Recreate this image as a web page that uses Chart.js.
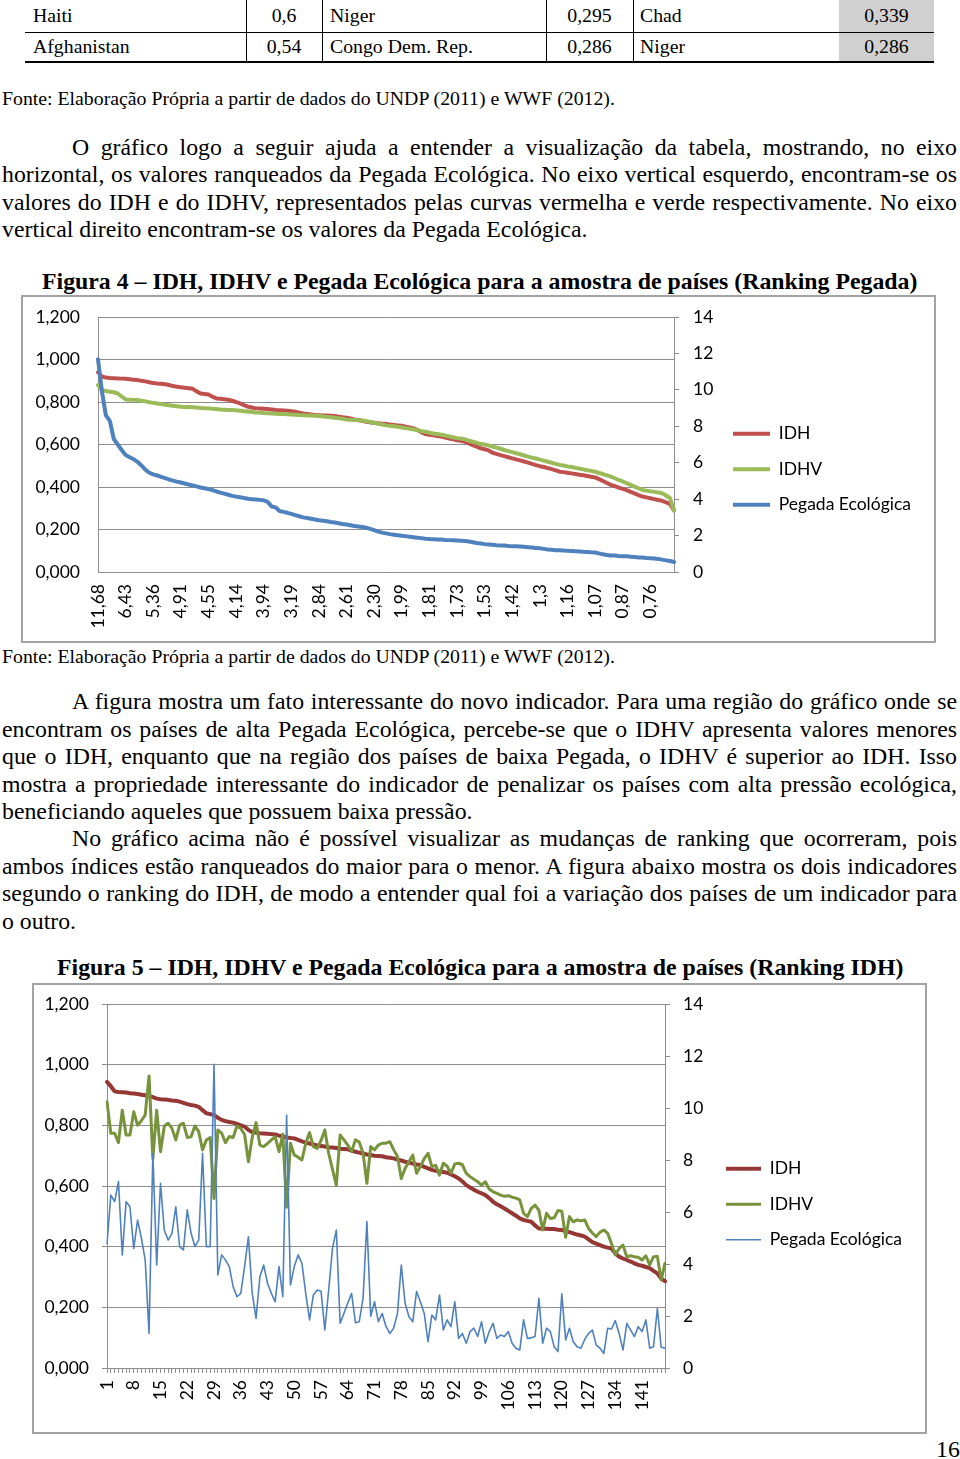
<!DOCTYPE html>
<html>
<head>
<meta charset="utf-8">
<script src="https://cdn.jsdelivr.net/npm/chart.js@4.4.0/dist/chart.umd.min.js"></script>
<style>
  body { margin: 0; background: #fff; width: 960px; height: 1459px; position: relative; overflow: hidden;
         font-family: "Liberation Serif", "Times New Roman", serif; color: #000; }
  .t { position: absolute; line-height: 1; white-space: nowrap; }
  .p { font-size: 23.8px; }
  .j { text-align: justify; text-align-last: justify; white-space: normal; }
  .s { font-size: 19.8px; }
  .h { font-size: 23.8px; font-weight: bold; }
  .c { text-align: center; }
  .ln { position: absolute; background: #000; }
  .box { position: absolute; border: 2px solid #a3a3a3; box-sizing: border-box; }
  .box canvas { display: block; }
</style>
</head>
<body>

<!-- fim da tabela 3 -->
<div style="position:absolute;left:839px;top:0;width:95px;height:62px;background:#d0d0d0"></div>
<div class="ln" style="left:25px;top:32px;width:909px;height:1px"></div>
<div class="ln" style="left:25px;top:61px;width:909px;height:2px"></div>
<div class="ln" style="left:246px;top:0;width:1px;height:62px"></div>
<div class="ln" style="left:322px;top:0;width:1px;height:62px"></div>
<div class="ln" style="left:546px;top:0;width:1px;height:62px"></div>
<div class="ln" style="left:633px;top:0;width:1px;height:62px"></div>
<div class="t s" style="left:33px;top:6px">Haiti</div>
<div class="t s c" style="left:246px;top:6px;width:76px">0,6</div>
<div class="t s" style="left:330px;top:6px">Niger</div>
<div class="t s c" style="left:546px;top:6px;width:87px">0,295</div>
<div class="t s" style="left:640px;top:6px">Chad</div>
<div class="t s c" style="left:839px;top:6px;width:95px">0,339</div>
<div class="t s" style="left:33px;top:37px">Afghanistan</div>
<div class="t s c" style="left:246px;top:37px;width:76px">0,54</div>
<div class="t s" style="left:330px;top:37px">Congo Dem. Rep.</div>
<div class="t s c" style="left:546px;top:37px;width:87px">0,286</div>
<div class="t s" style="left:640px;top:37px">Niger</div>
<div class="t s c" style="left:839px;top:37px;width:95px">0,286</div>

<div class="t s" style="left:2px;top:89px">Fonte: Elaboração Própria a partir de dados do UNDP (2011) e WWF (2012).</div>

<div class="t p j" style="left:72px;top:136px;width:885px">O gráfico logo a seguir ajuda a entender a visualização da tabela, mostrando, no eixo</div>
<div class="t p j" style="left:2px;top:163px;width:955px">horizontal, os valores ranqueados da Pegada Ecológica. No eixo vertical esquerdo, encontram-se os</div>
<div class="t p j" style="left:2px;top:191px;width:955px">valores do IDH e do IDHV, representados pelas curvas vermelha e verde respectivamente. No eixo</div>
<div class="t p" style="left:2px;top:218px">vertical direito encontram-se os valores da Pegada Ecológica.</div>

<div class="t h" style="left:42px;top:270px">Figura 4 – IDH, IDHV e Pegada Ecológica para a amostra de países (Ranking Pegada)</div>
<div class="box" style="left:21px;top:295px;width:915px;height:348px">
  <canvas id="fig4" width="911" height="344"></canvas>
</div>
<div class="t s" style="left:2px;top:647px">Fonte: Elaboração Própria a partir de dados do UNDP (2011) e WWF (2012).</div>

<div class="t p j" style="left:72px;top:690px;width:885px">A figura mostra um fato interessante do novo indicador. Para uma região do gráfico onde se</div>
<div class="t p j" style="left:2px;top:718px;width:955px">encontram os países de alta Pegada Ecológica, percebe-se que o IDHV apresenta valores menores</div>
<div class="t p j" style="left:2px;top:745px;width:955px">que o IDH, enquanto que na região dos países de baixa Pegada, o IDHV é superior ao IDH. Isso</div>
<div class="t p j" style="left:2px;top:773px;width:955px">mostra a propriedade interessante do indicador de penalizar os países com alta pressão ecológica,</div>
<div class="t p" style="left:2px;top:800px">beneficiando aqueles que possuem baixa pressão.</div>
<div class="t p j" style="left:72px;top:827px;width:885px">No gráfico acima não é possível visualizar as mudanças de ranking que ocorreram, pois</div>
<div class="t p j" style="left:2px;top:855px;width:955px">ambos índices estão ranqueados do maior para o menor. A figura abaixo mostra os dois indicadores</div>
<div class="t p j" style="left:2px;top:882px;width:955px">segundo o ranking do IDH, de modo a entender qual foi a variação dos países de um indicador para</div>
<div class="t p" style="left:2px;top:910px">o outro.</div>

<div class="t h" style="left:57px;top:956px">Figura 5 – IDH, IDHV e Pegada Ecológica para a amostra de países (Ranking IDH)</div>
<div class="box" style="left:32px;top:983px;width:895px;height:451px">
  <canvas id="fig5" width="891" height="447"></canvas>
</div>

<div class="t p" style="left:936px;top:1438px">16</div>

<script>
// Figura 4: paises ordenados pela Pegada Ecologica
const fig4Pegada = [
  11.68, 9.90, 8.60, 8.30, 7.30, 7.00, 6.70, 6.43,
  6.30, 6.20, 6.05, 5.85, 5.62, 5.45, 5.36,
  5.30, 5.22, 5.15, 5.08, 5.02, 4.96, 4.91,
  4.86, 4.80, 4.75, 4.70, 4.64, 4.60, 4.55,
  4.50, 4.42, 4.36, 4.30, 4.24, 4.18, 4.14,
  4.10, 4.06, 4.02, 4.00, 3.98, 3.96, 3.94,
  3.85, 3.60, 3.55, 3.35, 3.30, 3.25, 3.19,
  3.12, 3.06, 3.00, 2.96, 2.92, 2.88, 2.84,
  2.82, 2.79, 2.75, 2.72, 2.68, 2.64, 2.61,
  2.57, 2.53, 2.50, 2.47, 2.43, 2.37, 2.30,
  2.22, 2.16, 2.12, 2.08, 2.05, 2.02, 1.99,
  1.97, 1.94, 1.91, 1.88, 1.86, 1.83, 1.81,
  1.80, 1.79, 1.78, 1.76, 1.75, 1.74, 1.73,
  1.72, 1.70, 1.67, 1.63, 1.59, 1.56, 1.53,
  1.51, 1.49, 1.47, 1.46, 1.45, 1.43, 1.42,
  1.41, 1.40, 1.38, 1.36, 1.34, 1.32, 1.30,
  1.27, 1.24, 1.22, 1.20, 1.19, 1.18, 1.16,
  1.15, 1.14, 1.13, 1.11, 1.10, 1.08, 1.07,
  1.02, 0.97, 0.93, 0.91, 0.90, 0.88, 0.87,
  0.86, 0.84, 0.82, 0.80, 0.79, 0.77, 0.76,
  0.74, 0.72, 0.68, 0.64, 0.60, 0.55
];
const fig4Idh = [
  0.940, 0.920, 0.915, 0.913, 0.912, 0.911, 0.910, 0.909,
  0.907, 0.905, 0.903, 0.900, 0.897, 0.893, 0.889,
  0.887, 0.886, 0.884, 0.880, 0.875, 0.872, 0.869,
  0.867, 0.865, 0.862, 0.850, 0.840, 0.838, 0.835,
  0.825, 0.817, 0.815, 0.813, 0.811, 0.806, 0.800,
  0.793, 0.785, 0.778, 0.774, 0.770, 0.769, 0.768,
  0.767, 0.765, 0.762, 0.761, 0.760, 0.759, 0.757,
  0.754, 0.750, 0.746, 0.743, 0.741, 0.739, 0.738,
  0.737, 0.736, 0.735, 0.734, 0.731, 0.728, 0.726,
  0.722, 0.718, 0.715, 0.711, 0.707, 0.704, 0.702,
  0.700, 0.698, 0.696, 0.694, 0.692, 0.690, 0.688,
  0.684, 0.680, 0.676, 0.668, 0.658, 0.649, 0.646,
  0.643, 0.640, 0.637, 0.633, 0.628, 0.624, 0.620,
  0.617, 0.613, 0.605, 0.597, 0.590, 0.582, 0.578,
  0.572, 0.561, 0.556, 0.550, 0.545, 0.540, 0.535,
  0.530, 0.525, 0.520, 0.515, 0.509, 0.503, 0.498,
  0.494, 0.489, 0.484, 0.478, 0.472, 0.470, 0.467,
  0.464, 0.461, 0.458, 0.455, 0.452, 0.448, 0.445,
  0.437, 0.428, 0.419, 0.410, 0.404, 0.397, 0.391,
  0.385, 0.377, 0.370, 0.362, 0.355, 0.351, 0.347,
  0.343, 0.339, 0.335, 0.328, 0.320, 0.290
];
const fig4Idhv = [
  0.880, 0.856, 0.852, 0.848, 0.846, 0.840, 0.826, 0.812,
  0.811, 0.810, 0.809, 0.806, 0.803, 0.799, 0.796,
  0.793, 0.790, 0.787, 0.785, 0.782, 0.780, 0.778,
  0.777, 0.776, 0.775, 0.774, 0.772, 0.771, 0.770,
  0.768, 0.767, 0.765, 0.764, 0.762, 0.762, 0.761,
  0.759, 0.757, 0.755, 0.753, 0.751, 0.750, 0.748,
  0.747, 0.746, 0.745, 0.744, 0.743, 0.742, 0.741,
  0.740, 0.739, 0.738, 0.737, 0.736, 0.735, 0.734,
  0.732, 0.730, 0.728, 0.726, 0.724, 0.721, 0.718,
  0.716, 0.715, 0.714, 0.713, 0.710, 0.706, 0.702,
  0.698, 0.694, 0.690, 0.688, 0.686, 0.684, 0.680,
  0.677, 0.674, 0.671, 0.667, 0.663, 0.660, 0.656,
  0.652, 0.649, 0.646, 0.642, 0.638, 0.634, 0.630,
  0.628, 0.624, 0.618, 0.613, 0.608, 0.602, 0.600,
  0.596, 0.590, 0.585, 0.580, 0.574, 0.569, 0.564,
  0.559, 0.554, 0.548, 0.543, 0.538, 0.534, 0.529,
  0.524, 0.519, 0.514, 0.509, 0.504, 0.501, 0.497,
  0.494, 0.490, 0.487, 0.483, 0.479, 0.476, 0.472,
  0.466, 0.461, 0.455, 0.449, 0.441, 0.433, 0.426,
  0.418, 0.410, 0.402, 0.394, 0.386, 0.383, 0.380,
  0.377, 0.374, 0.371, 0.360, 0.347, 0.290
];
// rotulos do eixo x (um a cada 7 paises)
const fig4TickLabels = ['11,68', '6,43', '5,36', '4,91', '4,55', '4,14', '3,94', '3,19', '2,84', '2,61', '2,30',
  '1,99', '1,81', '1,73', '1,53', '1,42', '1,3', '1,16', '1,07', '0,87', '0,76'];

// Figura 5: paises ordenados pelo IDH
const fig5Idh = [
  0.943, 0.929, 0.912, 0.910, 0.909, 0.908, 0.906, 0.905, 0.903, 0.901,
  0.899, 0.897, 0.893, 0.888, 0.886, 0.885, 0.884, 0.882, 0.881, 0.878,
  0.874, 0.870, 0.867, 0.865, 0.861, 0.850, 0.840, 0.837, 0.834, 0.825,
  0.818, 0.814, 0.811, 0.809, 0.805, 0.800, 0.796, 0.785, 0.778, 0.776,
  0.774, 0.773, 0.772, 0.771, 0.770, 0.766, 0.763, 0.760, 0.758, 0.757,
  0.752, 0.747, 0.743, 0.740, 0.737, 0.734, 0.732, 0.730, 0.728, 0.727,
  0.725, 0.723, 0.722, 0.721, 0.717, 0.713, 0.710, 0.707, 0.704, 0.702,
  0.700, 0.699, 0.698, 0.695, 0.693, 0.691, 0.687, 0.684, 0.680, 0.677,
  0.674, 0.671, 0.669, 0.663, 0.658, 0.653, 0.650, 0.648, 0.646, 0.644,
  0.638, 0.632, 0.625, 0.615, 0.603, 0.595, 0.588, 0.581, 0.576, 0.570,
  0.560, 0.548, 0.540, 0.533, 0.526, 0.518, 0.510, 0.502, 0.493, 0.488,
  0.485, 0.482, 0.470, 0.460, 0.459, 0.459, 0.458, 0.458, 0.456, 0.455,
  0.451, 0.448, 0.444, 0.440, 0.437, 0.433, 0.424, 0.415, 0.410, 0.405,
  0.400, 0.397, 0.394, 0.378, 0.367, 0.361, 0.356, 0.351, 0.345, 0.340,
  0.337, 0.333, 0.329, 0.320, 0.312, 0.295, 0.286
];
const fig5Idhv = [
  0.878, 0.774, 0.774, 0.743, 0.850, 0.768, 0.768, 0.845, 0.800, 0.815,
  0.835, 0.963, 0.690, 0.850, 0.713, 0.798, 0.807, 0.790, 0.752, 0.801,
  0.807, 0.760, 0.762, 0.798, 0.779, 0.719, 0.752, 0.760, 0.559, 0.785,
  0.774, 0.743, 0.763, 0.760, 0.798, 0.790, 0.770, 0.680, 0.760, 0.809,
  0.735, 0.730, 0.740, 0.752, 0.763, 0.713, 0.771, 0.530, 0.741, 0.702,
  0.695, 0.686, 0.740, 0.776, 0.730, 0.724, 0.750, 0.785, 0.708, 0.655,
  0.603, 0.768, 0.752, 0.735, 0.714, 0.752, 0.745, 0.708, 0.609, 0.730,
  0.719, 0.735, 0.741, 0.741, 0.746, 0.720, 0.697, 0.625, 0.658, 0.680,
  0.702, 0.642, 0.664, 0.690, 0.708, 0.664, 0.668, 0.636, 0.675, 0.665,
  0.642, 0.673, 0.675, 0.670, 0.642, 0.631, 0.622, 0.614, 0.603, 0.614,
  0.590, 0.581, 0.576, 0.570, 0.566, 0.568, 0.563, 0.560, 0.554, 0.510,
  0.499, 0.526, 0.537, 0.520, 0.455, 0.510, 0.493, 0.495, 0.519, 0.517,
  0.431, 0.499, 0.482, 0.488, 0.485, 0.488, 0.460, 0.445, 0.433, 0.448,
  0.455, 0.444, 0.410, 0.373, 0.394, 0.405, 0.367, 0.370, 0.367, 0.365,
  0.356, 0.370, 0.340, 0.367, 0.368, 0.290, 0.345
];
const fig5Pegada = [
  4.79, 6.65, 6.40, 7.17, 4.35, 6.40, 6.20, 4.60, 5.69, 5.00,
  4.15, 1.33, 8.26, 3.96, 7.10, 5.30, 4.92, 5.18, 6.20, 4.67,
  4.54, 6.08, 5.18, 4.67, 4.92, 8.26, 4.67, 4.67, 11.68, 3.58,
  4.35, 4.15, 3.90, 3.13, 2.74, 2.87, 3.90, 5.05, 2.87, 1.91,
  3.51, 3.96, 3.26, 2.87, 2.55, 3.90, 2.74, 9.73, 3.19, 3.90,
  4.35, 4.03, 2.87, 1.85, 2.81, 3.00, 2.95, 1.46, 3.00, 4.60,
  5.31, 1.72, 2.10, 2.50, 2.87, 1.74, 1.78, 2.68, 5.63, 1.99,
  2.55, 1.78, 2.10, 1.60, 1.33, 1.53, 2.10, 3.96, 2.49, 1.97,
  1.78, 2.94, 2.55, 2.10, 1.01, 2.04, 1.85, 2.81, 1.46, 1.85,
  1.59, 2.55, 1.14, 1.33, 0.95, 1.40, 1.53, 1.21, 1.78, 0.95,
  1.40, 1.72, 1.14, 1.27, 1.21, 1.40, 0.95, 0.76, 0.69, 1.85,
  1.14, 1.16, 1.21, 2.68, 0.95, 1.53, 1.40, 0.82, 0.63, 2.85,
  1.08, 1.53, 1.01, 0.82, 0.76, 1.10, 1.33, 1.46, 0.88, 0.76,
  0.56, 1.53, 1.50, 1.82, 1.33, 0.69, 1.72, 1.46, 1.21, 1.59,
  1.40, 1.85, 0.76, 0.82, 2.29, 0.80, 0.76
];

const seriesNames = ['IDH', 'IDHV', 'Pegada Ecológica'];
const GRID = '#8e8e8e';
const FONT_SIZE = 17.5;

Chart.defaults.font.family = 'Lato';
Chart.defaults.font.size = FONT_SIZE;
Chart.defaults.color = '#000';

// padding direito para que a legenda comece onde queremos
function legendPadRight(canvasW, lineStart, boxW) {
  const ctx = document.createElement('canvas').getContext('2d');
  ctx.font = FONT_SIZE + 'px Lato';
  const tw = Math.max(...seriesNames.map(t => ctx.measureText(t).width));
  const legendW = 18 + boxW + FONT_SIZE / 2 + tw + 10;
  return canvasW - (lineStart - 18) - legendW;
}

// largura fixa do eixo vertical, sem a folga automatica em cima/embaixo
function fixVertical(width) {
  return s => {
    s.width = width;
    s.paddingTop = 0;
    s.paddingBottom = 0;
  };
}

function buildChart(id, o) {
  const canvas = document.getElementById(id);
  return new Chart(canvas, {
    type: 'line',
    data: {
      labels: o.labels,
      datasets: [
        { label: seriesNames[0], data: o.idh, borderColor: o.colors[0], backgroundColor: o.colors[0], borderWidth: o.widths[0], yAxisID: 'y', order: 3 },
        { label: seriesNames[1], data: o.idhv, borderColor: o.colors[1], backgroundColor: o.colors[1], borderWidth: o.widths[1], yAxisID: 'y', order: 2 },
        { label: seriesNames[2], data: o.pegada, borderColor: o.colors[2], backgroundColor: o.colors[2], borderWidth: o.widths[2], yAxisID: 'y1', order: 1 }
      ]
    },
    options: {
      responsive: false,
      animation: false,
      devicePixelRatio: 1,
      layout: { padding: { left: 0, top: o.padTop, bottom: 0,
                           right: legendPadRight(canvas.width, o.legendX, o.boxW) } },
      elements: {
        point: { radius: 0 },
        line: { tension: 0, fill: false, borderJoinStyle: 'round', borderCapStyle: 'round' }
      },
      plugins: {
        tooltip: { enabled: false },
        legend: {
          position: 'right',
          align: 'start',
          maxWidth: 400,
          // titulo vazio usado so para descer os itens da legenda
          title: { display: true, text: '', font: { size: 1 }, padding: { top: o.legendY - 1.2, bottom: 0 } },
          labels: {
            usePointStyle: true,
            pointStyle: 'line',
            pointStyleWidth: o.boxW,
            padding: 18,
            color: '#000',
            font: { size: FONT_SIZE },
            sort: (a, b) => a.datasetIndex - b.datasetIndex
          }
        }
      },
      scales: {
        x: {
          grid: { display: o.xTicks, drawOnChartArea: false, drawTicks: o.xTicks, tickLength: 5, color: GRID },
          border: { display: true, color: GRID },
          ticks: { autoSkip: false, minRotation: 90, maxRotation: 90, padding: o.xPad, callback: o.xLabel },
          afterFit: s => { s.height = o.xHeight; }
        },
        y: {
          position: 'left',
          min: 0,
          max: 1.2,
          grid: { color: GRID, drawTicks: o.yTicks, tickLength: 5 },
          border: { color: GRID },
          ticks: { stepSize: 0.2, padding: o.yPad, callback: v => v.toFixed(3).replace('.', ',') },
          afterFit: fixVertical(o.yWidth)
        },
        y1: {
          position: 'right',
          min: 0,
          max: 14,
          grid: { drawOnChartArea: false, drawTicks: true, tickLength: 5, color: GRID },
          border: { color: GRID },
          ticks: { stepSize: 2, padding: o.y1Pad, callback: v => v },
          afterFit: fixVertical(o.y1Width)
        }
      }
    }
  });
}

buildChart('fig4', {
  labels: fig4Pegada.map((v, i) => i),
  idh: fig4Idh, idhv: fig4Idhv, pegada: fig4Pegada,
  colors: ['#c0504d', '#9bbb59', '#4f81bd'],
  widths: [4, 4, 4],
  xLabel: (v, i) => (i % 7 === 0 ? fig4TickLabels[i / 7] : ''),
  xTicks: false, xPad: 12, xHeight: 69,
  yTicks: false, yPad: 18, yWidth: 75,
  y1Pad: 14, y1Width: 41,
  padTop: 20,
  legendX: 710, legendY: 90, boxW: 37
});

buildChart('fig5', {
  labels: fig5Idh.map((v, i) => String(i + 1)),
  idh: fig5Idh, idhv: fig5Idhv, pegada: fig5Pegada,
  colors: ['#953735', '#77933c', '#4f81bd'],
  widths: [4, 3, 1.6],
  xLabel: (v, i) => (i % 7 === 0 ? String(i + 1) : ''),
  xTicks: true, xPad: 7, xHeight: 64,
  yTicks: true, yPad: 13, yWidth: 73,
  y1Pad: 13, y1Width: 43,
  padTop: 19,
  legendY: 138, legendX: 692, boxW: 35
});
</script>
</body>
</html>
